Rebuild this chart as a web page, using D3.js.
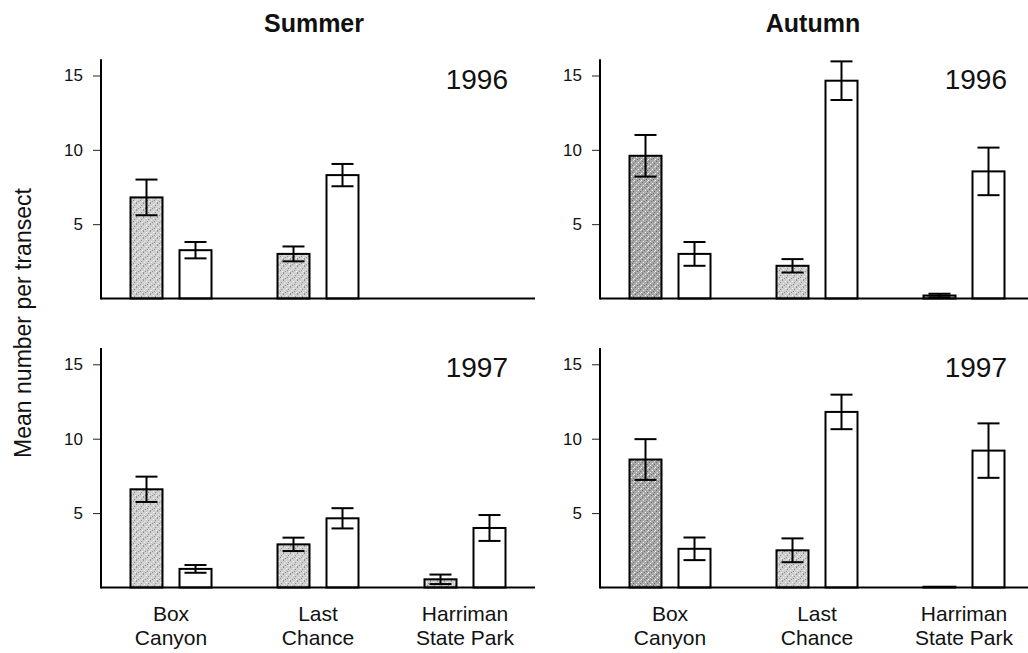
<!DOCTYPE html>
<html>
<head>
<meta charset="utf-8">
<script src="https://cdn.jsdelivr.net/npm/d3@7"></script>
<style>
  body { margin: 0; background: #fff; }
  text { font-family: "Liberation Sans", Arial, sans-serif; fill: #111; }
</style>
</head>
<body>
<div id="chart"></div>
<script>
// categories
var sites = ["Box Canyon", "Last Chance", "Harriman State Park"];
var siteLines = [["Box", "Canyon"], ["Last", "Chance"], ["Harriman", "State Park"]];
var seasons = ["Summer", "Autumn"];
var years = ["1996", "1997"];
var series = ["shaded", "open"];
var yTicks = [5, 10, 15];

// mean number per transect (null = no data), and error bar half-widths
var summer1996Shaded = [6.8, 3.0, null];
var summer1996ShadedErr = [1.2, 0.5, null];
var summer1996Open = [3.25, 8.3, null];
var summer1996OpenErr = [0.55, 0.75, null];

var autumn1996Shaded = [9.6, 2.2, 0.2];
var autumn1996ShadedErr = [1.4, 0.45, 0.12];
var autumn1996Open = [3.0, 14.65, 8.55];
var autumn1996OpenErr = [0.8, 1.3, 1.6];

var summer1997Shaded = [6.6, 2.9, 0.55];
var summer1997ShadedErr = [0.85, 0.45, 0.32];
var summer1997Open = [1.25, 4.65, 4.0];
var summer1997OpenErr = [0.26, 0.68, 0.87];

var autumn1997Shaded = [8.6, 2.5, 0.05];
var autumn1997ShadedErr = [1.37, 0.8, 0];
var autumn1997Open = [2.6, 11.8, 9.2];
var autumn1997OpenErr = [0.76, 1.16, 1.83];

var panels = [
  {season: "Summer", year: "1996", shaded: summer1996Shaded, shadedErr: summer1996ShadedErr, open: summer1996Open, openErr: summer1996OpenErr},
  {season: "Autumn", year: "1996", shaded: autumn1996Shaded, shadedErr: autumn1996ShadedErr, open: autumn1996Open, openErr: autumn1996OpenErr},
  {season: "Summer", year: "1997", shaded: summer1997Shaded, shadedErr: summer1997ShadedErr, open: summer1997Open, openErr: summer1997OpenErr},
  {season: "Autumn", year: "1997", shaded: autumn1997Shaded, shadedErr: autumn1997ShadedErr, open: autumn1997Open, openErr: autumn1997OpenErr}
];

var svgWidth = 1028, svgHeight = 653;
var panelWidth = 434;
var colX = {Summer: 101, Autumn: 600};
var rowY = {"1996": {base: 298.5, top15: 75.5}, "1997": {base: 587.5, top15: 364.3}};

var svg = d3.select("#chart").append("svg")
  .attr("width", svgWidth)
  .attr("height", svgHeight);

// speckled fills for the shaded bars
var defs = svg.append("defs");
function speckle(id, base, dark) {
  var p = defs.append("pattern").attr("id", id)
    .attr("width", 7).attr("height", 7).attr("patternUnits", "userSpaceOnUse");
  p.append("rect").attr("width", 7).attr("height", 7).attr("fill", base);
  var dots = [[0,0,dark],[3,1,"#fff"],[5,2,dark],[1,3,"#eee"],[4,4,dark],[2,5,dark],[6,5,"#fff"],[0,6,"#999"],[5,6,"#ddd"]];
  dots.forEach(function(d) {
    p.append("rect").attr("x", d[0]).attr("y", d[1]).attr("width", 1).attr("height", 1).attr("fill", d[2]);
  });
}
speckle("speckle", "#cfcfcf", "#909090");
speckle("speckleDark", "#a9a9a9", "#6a6a6a");

// group and bar scales (shared by all panels)
var xGroup = d3.scaleBand().domain(sites).range([-3.5, 437.5]).paddingInner(0);
var xBar = d3.scaleBand().domain(series).range([33, 114]).paddingInner(0.347);
var labelScale = d3.scaleBand().domain(sites).range([-3.5, 437.5]);

panels.forEach(function(p) {
  var x0 = colX[p.season];
  var r = rowY[p.year];
  var y = d3.scaleLinear().domain([0, 15]).range([r.base, r.top15]);
  var g = svg.append("g").attr("transform", "translate(" + x0 + ",0)");

  // y axis
  var yAxis = d3.axisLeft(y).tickValues(yTicks).tickSize(8).tickPadding(10).tickSizeOuter(0);
  var ya = g.append("g").call(yAxis);
  ya.select(".domain").remove();
  ya.selectAll("line").attr("stroke", "#222").attr("stroke-width", 1);
  ya.selectAll("text").style("font-size", "17px").attr("fill", "#111")
    .style("font-family", "'Liberation Sans', Arial, sans-serif");
  g.append("line")
    .attr("x1", 0).attr("x2", 0)
    .attr("y1", y(16.1)).attr("y2", y(0) + 1)
    .attr("stroke", "#000").attr("stroke-width", 2);

  // bars
  var rows = [];
  sites.forEach(function(s, i) {
    rows.push({site: s, key: "shaded", v: p.shaded[i], e: p.shadedErr[i]});
    rows.push({site: s, key: "open", v: p.open[i], e: p.openErr[i]});
  });
  rows = rows.filter(function(d) { return d.v !== null; });

  g.selectAll("rect.bar").data(rows).enter().append("rect")
    .attr("class", "bar")
    .attr("x", function(d) { return xGroup(d.site) + xBar(d.key); })
    .attr("y", function(d) { return y(d.v); })
    .attr("width", xBar.bandwidth())
    .attr("height", function(d) { return y(0) - y(d.v); })
    .attr("fill", function(d) {
      if (d.key === "open") return "#fff";
      return (p.season === "Autumn" && d.site === "Box Canyon") ? "url(#speckleDark)" : "url(#speckle)";
    })
    .attr("stroke", "#000").attr("stroke-width", 2);

  // error bars
  var capHalf = 11;
  var eb = g.selectAll("g.err").data(rows.filter(function(d) { return d.e > 0; })).enter().append("g")
    .attr("class", "err")
    .attr("transform", function(d) { return "translate(" + (xGroup(d.site) + xBar(d.key) + xBar.bandwidth() / 2) + ",0)"; })
    .attr("stroke", "#000").attr("stroke-width", 2);
  eb.append("line").attr("x1", 0).attr("x2", 0)
    .attr("y1", function(d) { return y(d.v + d.e); })
    .attr("y2", function(d) { return y(d.v - d.e); });
  eb.append("line").attr("x1", -capHalf).attr("x2", capHalf)
    .attr("y1", function(d) { return y(d.v + d.e); })
    .attr("y2", function(d) { return y(d.v + d.e); });
  eb.append("line").attr("x1", -capHalf).attr("x2", capHalf)
    .attr("y1", function(d) { return y(d.v - d.e); })
    .attr("y2", function(d) { return y(d.v - d.e); });

  // x axis baseline
  g.append("line")
    .attr("x1", 0).attr("x2", panelWidth)
    .attr("y1", y(0)).attr("y2", y(0))
    .attr("stroke", "#000").attr("stroke-width", 2);

  // year label
  g.append("text")
    .attr("x", 407).attr("y", y(15) + 13)
    .attr("text-anchor", "end")
    .style("font-size", "28px")
    .text(p.year);

  // site labels under the bottom row, one text per line
  if (p.year === "1997") {
    [0, 1].forEach(function(li) {
      g.selectAll("text.site" + li).data(sites).enter().append("text")
        .attr("class", "site" + li)
        .attr("text-anchor", "middle")
        .attr("x", function(d) { return labelScale(d) + labelScale.bandwidth() / 2; })
        .attr("y", y(0) + 33 + li * 24)
        .style("font-size", "21px")
        .text(function(d, i) { return siteLines[i][li]; });
    });
  }

  // season title above the top row
  if (p.year === "1996") {
    g.append("text")
      .attr("x", panelWidth / 2 - 4).attr("y", 32)
      .attr("text-anchor", "middle")
      .style("font-size", "25px").style("font-weight", "bold")
      .text(p.season);
  }
});

// y axis title
svg.append("text")
  .attr("transform", "translate(31,323) rotate(-90)")
  .attr("text-anchor", "middle")
  .style("font-size", "23px")
  .text("Mean number per transect");
</script>
</body>
</html>
